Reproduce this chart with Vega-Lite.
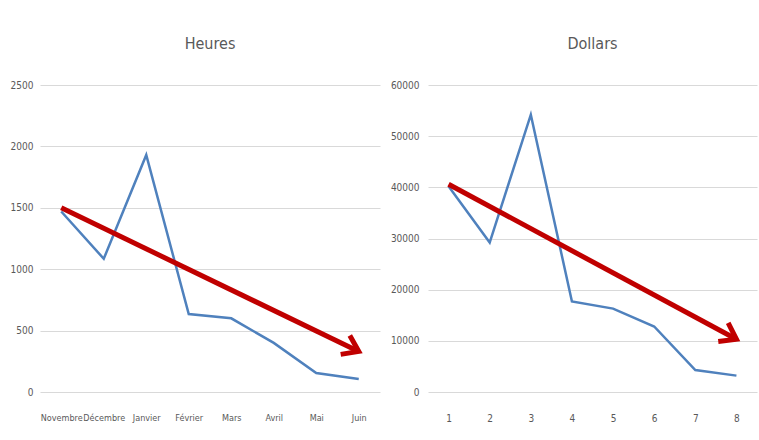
{
  "$schema": "https://vega.github.io/schema/vega-lite/v6.json",
  "padding": {"left": 0, "top": 36, "right": 2, "bottom": 0},
  "spacing": 0,
  "background": "white",
  "config": {
    "font": "DejaVu Sans Condensed, Liberation Sans, sans-serif",
    "view": {"stroke": null},
    "axis": {
      "labelFont": "DejaVu Sans Condensed, Liberation Sans, sans-serif",
      "labelColor": "#595959",
      "labelFontSize": 10,
      "ticks": false,
      "domain": false,
      "title": null,
      "gridColor": "#d9d9d9",
      "gridWidth": 1
    },
    "title": {
      "font": "DejaVu Sans Condensed, Liberation Sans, sans-serif",
      "fontSize": 16,
      "fontWeight": "normal",
      "color": "#595959",
      "anchor": "middle",
      "offset": 28
    }
  },
  "datasets": {
    "heures": [
      {"mois": "Novembre", "heures": 1470},
      {"mois": "Décembre", "heures": 1085},
      {"mois": "Janvier", "heures": 1930},
      {"mois": "Février", "heures": 635},
      {"mois": "Mars", "heures": 600},
      {"mois": "Avril", "heures": 400},
      {"mois": "Mai", "heures": 155},
      {"mois": "Juin", "heures": 105}
    ],
    "heuresArrow": [
      {"mois": "Novembre", "heures": 1500, "end": "no"},
      {"mois": "Juin", "heures": 330, "end": "yes"}
    ],
    "dollars": [
      {"n": 1, "dollars": 40200},
      {"n": 2, "dollars": 29200},
      {"n": 3, "dollars": 54200},
      {"n": 4, "dollars": 17700},
      {"n": 5, "dollars": 16300},
      {"n": 6, "dollars": 12800},
      {"n": 7, "dollars": 4300},
      {"n": 8, "dollars": 3200}
    ],
    "dollarsArrow": [
      {"n": 1, "dollars": 40600, "end": "no"},
      {"n": 8, "dollars": 10300, "end": "yes"}
    ]
  },
  "hconcat": [
    {
      "title": "Heures",
      "width": 340,
      "height": 307,
      "layer": [
        {
          "data": {"name": "heures"},
          "mark": {"type": "line", "color": "#4f81bd", "strokeWidth": 2.5},
          "encoding": {
            "x": {
              "field": "mois", "type": "nominal", "sort": null,
              "scale": {"domain": ["Novembre", "Décembre", "Janvier", "Février", "Mars", "Avril", "Mai", "Juin"]},
              "axis": {"labelAngle": 0, "grid": false, "labelPadding": 21, "labelFontSize": 9}
            },
            "y": {
              "field": "heures", "type": "quantitative",
              "scale": {"domain": [0, 2500], "nice": false},
              "axis": {"values": [0, 500, 1000, 1500, 2000, 2500], "format": "d", "labelPadding": 7, "minExtent": 40, "maxExtent": 40}
            }
          }
        },
        {
          "data": {"name": "heuresArrow"},
          "mark": {"type": "line", "color": "#c00000", "strokeWidth": 5},
          "encoding": {
            "x": {"field": "mois", "type": "nominal", "sort": null},
            "y": {"field": "heures", "type": "quantitative"}
          }
        },
        {
          "data": {"name": "heuresArrow"},
          "transform": [{"filter": "datum.end === 'yes'"}],
          "mark": {"type": "point", "shape": "M -1 -0.7 L 0 0 L -1 0.7", "size": 900, "angle": 25.8, "filled": false, "color": "#c00000", "strokeWidth": 5, "opacity": 1, "strokeCap": "butt"},
          "encoding": {
            "x": {"field": "mois", "type": "nominal", "sort": null},
            "y": {"field": "heures", "type": "quantitative"}
          }
        }
      ]
    },
    {
      "title": "Dollars",
      "width": 329,
      "height": 307,
      "layer": [
        {
          "data": {"name": "dollars"},
          "mark": {"type": "line", "color": "#4f81bd", "strokeWidth": 2.5},
          "encoding": {
            "x": {
              "field": "n", "type": "ordinal",
              "scale": {"domain": [1, 2, 3, 4, 5, 6, 7, 8]},
              "axis": {"labelAngle": 0, "grid": false, "labelPadding": 21}
            },
            "y": {
              "field": "dollars", "type": "quantitative",
              "scale": {"domain": [0, 60000], "nice": false},
              "axis": {"values": [0, 10000, 20000, 30000, 40000, 50000, 60000], "format": "d", "labelPadding": 9, "minExtent": 48, "maxExtent": 48}
            }
          }
        },
        {
          "data": {"name": "dollarsArrow"},
          "mark": {"type": "line", "color": "#c00000", "strokeWidth": 5},
          "encoding": {
            "x": {"field": "n", "type": "ordinal"},
            "y": {"field": "dollars", "type": "quantitative"}
          }
        },
        {
          "data": {"name": "dollarsArrow"},
          "transform": [{"filter": "datum.end === 'yes'"}],
          "mark": {"type": "point", "shape": "M -1 -0.7 L 0 0 L -1 0.7", "size": 900, "angle": 28.2, "filled": false, "color": "#c00000", "strokeWidth": 5, "opacity": 1, "strokeCap": "butt"},
          "encoding": {
            "x": {"field": "n", "type": "ordinal"},
            "y": {"field": "dollars", "type": "quantitative"}
          }
        }
      ]
    }
  ]
}
